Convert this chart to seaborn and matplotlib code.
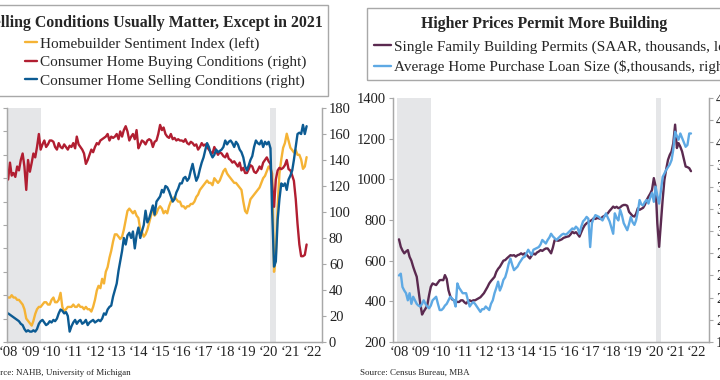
import matplotlib
matplotlib.use("Agg")
import matplotlib.pyplot as plt
import matplotlib.dates as mdates
from matplotlib.patches import Rectangle
import numpy as np
import pandas as pd
import seaborn as sns

# ---- data (monthly, Jan 2008 - Oct 2021) ----
sentiment = [
    19, 19, 20, 19, 19, 18, 18, 17, 16, 14, 10, 9,
    8, 7, 9, 12, 14, 15, 15, 16, 17, 17, 16, 16,
    18, 19, 17, 17, 18, 21, 15, 13, 14, 15, 15, 15,
    16, 15, 15, 16, 15, 15, 14, 15, 14, 14, 13, 15,
    18, 22, 24, 23, 27, 25, 30, 32, 36, 39, 43, 46,
    46, 45, 44, 45, 48, 52, 56, 57, 56, 55, 56, 54,
    53, 48, 47, 45, 46, 48, 51, 54, 58, 54, 55, 57,
    58, 57, 55, 56, 55, 58, 60, 61, 62, 61, 60, 60,
    58, 58, 57, 58, 58, 59, 59, 60, 62, 63, 65, 66,
    67, 68, 69, 68, 68, 67, 70, 69, 68, 69, 71, 73,
    74, 72, 71, 70, 69, 68, 68, 67, 66, 65, 60, 56,
    55, 58, 61, 62, 63, 64, 65, 66, 68, 70, 71, 73,
    75, 74, 72, 30, 37, 58, 72, 78, 83, 85, 89, 86,
    83, 82, 81, 82, 80, 80, 78, 74, 75, 79]

buying = [
    125, 138, 128, 130, 127, 135, 132, 140, 145, 135, 117, 140,
    131, 138, 145, 142, 150, 160, 148, 152, 155, 150, 152, 155,
    155, 154, 150, 148, 153, 150, 149, 152, 150, 148, 151, 150,
    153, 149, 158, 152, 150, 148, 145, 137, 140, 144, 148, 146,
    150, 153, 152, 155, 156, 157, 158, 160, 155, 158, 157, 158,
    160, 156, 162, 158, 163, 166, 162, 155, 158, 160, 156, 163,
    149, 152, 155, 154, 152, 155, 156, 155, 150, 154, 155, 160,
    167, 163, 165, 160, 158, 157, 160, 156, 157, 155, 156, 155,
    155, 154, 156, 153, 152, 154, 153, 151, 152, 148, 150, 153,
    151, 152, 150, 148, 146, 145, 150, 147, 144, 146, 145, 143,
    142, 145, 141, 140, 138, 139, 137, 135, 138, 132, 134, 130,
    130, 133, 136, 135, 131, 130, 132, 135, 133, 138, 140, 142,
    139, 137, 120, 104, 125, 132, 134, 133, 134, 136, 140, 133,
    132, 128, 124, 110, 91, 75, 66, 66, 67, 75]

selling = [
    22, 21, 20, 19, 18, 17, 16, 14, 13, 10, 8, 9,
    8, 8, 9, 8, 10, 14, 16, 17, 15, 13, 14, 16,
    15, 17, 16, 18, 22, 25, 24, 22, 23, 20, 8, 12,
    15, 17, 14, 16, 17, 14, 15, 17, 13, 15, 16, 17,
    15, 16, 17, 16, 18, 22, 21, 25, 27, 28, 35, 40,
    45, 55, 62, 70, 80, 75, 82, 84, 80, 85, 72, 82,
    88, 80, 85, 90, 101, 92, 95, 100, 105, 98, 108, 110,
    112, 117, 115, 120, 119, 116, 112, 108, 110, 115, 118, 122,
    122, 126, 127, 124, 126, 132, 137, 130, 124, 127, 133, 138,
    142, 148, 153, 150, 145, 142, 144, 148, 146, 147, 148, 150,
    155, 152, 154, 155, 153, 150, 154, 152, 148, 146, 142, 135,
    132, 136, 140, 143, 150, 155, 153, 152, 155, 150, 154, 152,
    154, 149, 100, 58, 62, 94, 110, 122, 120, 122, 117, 125,
    128, 132, 140, 150, 160, 161, 160, 167, 160, 166]

permits = [
    705, 668, 650, 636, 645, 652, 619, 600, 570, 545, 521, 455,
    389, 335, 350, 364, 380, 430, 471, 488, 484, 480, 492, 504,
    505, 504, 529, 510, 455, 425, 410, 405, 400, 397, 397, 405,
    405, 395, 389, 400, 405, 400, 405, 405, 410, 415, 420, 430,
    440, 455, 470, 488, 500, 510, 520, 545, 560, 570, 585, 600,
    603, 612, 619, 627, 625, 627, 620, 627, 630, 636, 630, 636,
    630, 620, 611, 625, 636, 630, 640, 645, 652, 648, 655, 660,
    660, 648, 636, 665, 701, 700, 698, 701, 705, 712, 715, 718,
    720, 730, 742, 735, 740, 730, 718, 740, 760, 775, 784, 790,
    795, 800, 808, 805, 810, 808, 805, 815, 820, 825, 833, 845,
    855, 866, 860, 865, 858, 862, 870, 874, 874, 870, 840, 830,
    820, 817, 830, 858, 850, 855, 860, 875, 899, 915, 930, 948,
    1006, 965, 784, 668, 784, 900, 997, 1050, 1096, 1120, 1137, 1178,
    1269, 1154, 1178, 1160, 1137, 1100, 1063, 1060, 1055, 1040]

loan_size = [
    250, 252, 237, 233, 230, 222, 230, 218, 226, 222, 218, 216,
    215, 218, 222, 218, 215, 213, 216, 222, 224, 226, 218, 211,
    211, 213, 216, 218, 222, 226, 224, 222, 215, 241, 236, 233,
    230, 230, 230, 222, 215, 218, 220, 218, 215, 212, 209, 212,
    212, 215, 213, 211, 218, 222, 230, 236, 243, 233, 238, 245,
    248, 255, 263, 269, 262, 256, 258, 260, 264, 267, 270, 271,
    275, 279, 276, 273, 279, 280, 281, 282, 285, 290, 288, 286,
    290, 293, 297, 294, 292, 290, 292, 294, 296, 297, 296, 297,
    299, 301, 303, 302, 305, 303, 297, 305, 311, 313, 316, 314,
    282, 309, 314, 318, 317, 316, 314, 312, 316, 320, 315, 311,
    304, 297, 320, 315, 312, 324, 318, 309, 305, 301, 308, 316,
    310, 307, 312, 322, 335, 330, 329, 333, 335, 331, 338, 343,
    333, 350, 340, 331, 345, 361, 365, 369, 372, 375, 380, 392,
    412, 407, 403, 410, 405, 400, 395, 397, 410, 410]

dates = pd.date_range("2008-01-01", periods=len(sentiment), freq="MS")
recessions = [("2007-12-01", "2009-06-30"), ("2020-02-01", "2020-04-30")]

YELLOW = "#F5B335"
RED = "#B11E31"
BLUE = "#0C5B93"
PURPLE = "#5B2A50"
LBLUE = "#5EA9E4"
SHADE = "#E5E6E8"
SPINE = "#A8A8A8"

sns.set_style("white")
plt.rcParams['font.family'] = ['Liberation Serif', 'DejaVu Serif']

fig = plt.figure(figsize=(7.2, 3.8), dpi=100)


def style_axes(ax, ax2):
    for a in (ax, ax2):
        a.spines['top'].set_visible(False)
        for s in ('left', 'right', 'bottom'):
            a.spines[s].set_color(SPINE)
            a.spines[s].set_linewidth(0.9)
        a.tick_params(axis='y', labelsize=10.5, length=3, width=0.8,
                      color=SPINE, pad=2, labelcolor='#222222')
        a.set_xlabel('')
        a.set_ylabel('')
    ax.tick_params(axis='x', labelsize=10.5, length=0, pad=3,
                   labelcolor='#222222')
    ax.xaxis.set_major_locator(mdates.YearLocator())
    ax.xaxis.set_major_formatter(mdates.DateFormatter('\u2018%y'))
    ax2.tick_params(axis='y', left=False, right=True)
    for start, end in recessions:
        ax.axvspan(pd.Timestamp(start), pd.Timestamp(end), color=SHADE,
                   lw=0, zorder=0)


# ---- left panel ----
axL = fig.add_axes([7 / 720, 38 / 380, 315 / 720, 234 / 380])
axL2 = axL.twinx()
sns.lineplot(x=dates, y=sentiment, ax=axL, color=YELLOW, lw=1.7,
             label='Homebuilder Sentiment Index (left)', legend=False)
sns.lineplot(x=dates, y=buying, ax=axL2, color=RED, lw=1.7,
             label='Consumer Home Buying Conditions (right)', legend=False)
sns.lineplot(x=dates, y=selling, ax=axL2, color=BLUE, lw=1.7,
             label='Consumer Home Selling Conditions (right)', legend=False)
axL.set_ylim(0, 100)
axL.set_yticks(np.arange(0, 101, 10))
axL2.set_ylim(0, 180)
axL2.set_yticks(np.arange(0, 181, 20))
axL.set_xlim(pd.Timestamp("2007-12-13"), pd.Timestamp("2022-06-17"))
style_axes(axL, axL2)

# ---- right panel ----
axR = fig.add_axes([393 / 720, 38 / 380, 316 / 720, 244 / 380])
axR2 = axR.twinx()
sns.lineplot(x=dates, y=permits, ax=axR, color=PURPLE, lw=1.7,
             label='Single Family Building Permits (SAAR, thousands, left)',
             legend=False)
sns.lineplot(x=dates, y=loan_size, ax=axR2, color=LBLUE, lw=1.7,
             label='Average Home Purchase Loan Size ($,thousands, right)',
             legend=False)
axR.set_ylim(200, 1400)
axR.set_yticks(np.arange(200, 1401, 200))
axR2.set_ylim(175, 450)
axR2.set_yticks(np.arange(175, 451, 25))
axR.set_xlim(pd.Timestamp("2007-09-20"), pd.Timestamp("2022-08-07"))
style_axes(axR, axR2)

# ---- title boxes ----
fig.add_artist(Rectangle((-12 / 720, 1 - 96 / 380), 340 / 720, 91 / 380,
                         transform=fig.transFigure, fill=False,
                         ec=SPINE, lw=1.0))
fig.add_artist(Rectangle((367 / 720, 1 - 80 / 380), 363 / 720, 72 / 380,
                         transform=fig.transFigure, fill=False,
                         ec=SPINE, lw=1.0))
fig.text(154 / 720, 1 - 23 / 380,
         'Selling Conditions Usually Matter, Except in 2021',
         ha='center', va='center', fontsize=11.4, fontweight='bold')
fig.text(544 / 720, 1 - 24 / 380, 'Higher Prices Permit More Building',
         ha='center', va='center', fontsize=11.4, fontweight='bold')

fig.legend(handles=axL.lines + axL2.lines, loc='upper left',
           bbox_to_anchor=(25 / 720, 1 - 37 / 380), frameon=False,
           fontsize=11, handlelength=0.8, handletextpad=0.2,
           labelspacing=0.3, borderpad=0, borderaxespad=0)
fig.legend(handles=axR.lines + axR2.lines, loc='upper left',
           bbox_to_anchor=(374 / 720, 1 - 40 / 380), frameon=False,
           fontsize=11, handlelength=1.1, handletextpad=0.2,
           labelspacing=0.4, borderpad=0, borderaxespad=0)

fig.text(-14 / 720, 1 - 373 / 380, 'Source: NAHB, University of Michigan',
         ha='left', va='center', fontsize=6.5)
fig.text(360 / 720, 1 - 373 / 380, 'Source: Census Bureau, MBA',
         ha='left', va='center', fontsize=6.5)

fig.savefig('out.png', dpi=100)
